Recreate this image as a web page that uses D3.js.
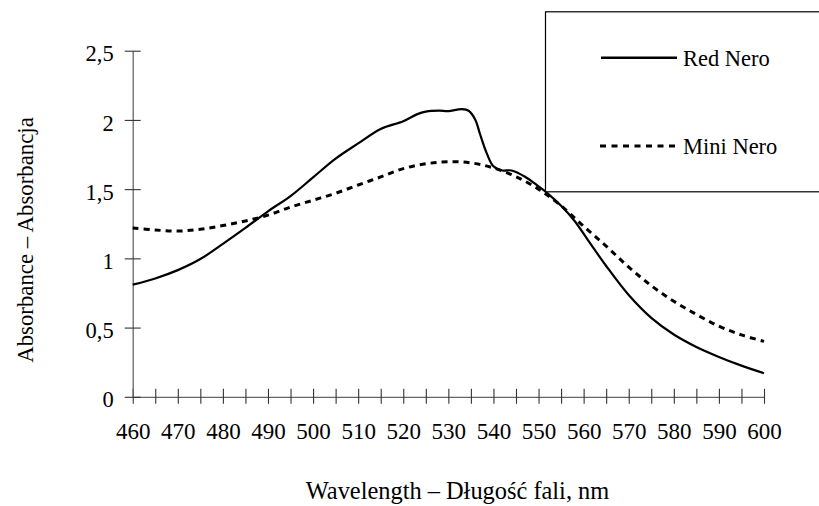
<!DOCTYPE html>
<html>
<head>
<meta charset="utf-8">
<script src="https://cdn.jsdelivr.net/npm/d3@7/dist/d3.min.js"></script>
<style>
  html, body { margin: 0; padding: 0; background: #fff; }
  svg { display: block; }
  text { font-family: "Liberation Serif", "Times New Roman", serif; fill: #000; }
</style>
</head>
<body>
<svg id="chart" width="819" height="506"></svg>
<script>
// ---- data ----
const redWavelengths = [460,465,470,475,480,485,490,495,500,505,510,515,520,523,525,528,530,533,534.5,536,537,538.5,540,542,544,547,550,552,555,558,561,565,570,575,580,585,590,595,600];
const redValues      = [0.81,0.855,0.915,0.995,1.105,1.22,1.34,1.45,1.585,1.72,1.83,1.935,1.99,2.04,2.06,2.067,2.064,2.078,2.066,2.0,1.90,1.76,1.665,1.635,1.635,1.59,1.52,1.47,1.38,1.27,1.13,0.945,0.735,0.57,0.45,0.36,0.288,0.225,0.17];
const miniWavelengths = [460,465,470,475,480,485,490,495,500,505,510,515,520,525,530,535,540,545,550,555,560,565,570,575,580,585,590,595,600];
const miniValues      = [1.22,1.205,1.197,1.21,1.237,1.27,1.312,1.37,1.42,1.47,1.53,1.588,1.648,1.683,1.698,1.69,1.653,1.59,1.50,1.38,1.232,1.088,0.937,0.803,0.69,0.595,0.51,0.447,0.40];
const xTickValues = [460,465,470,475,480,485,490,495,500,505,510,515,520,525,530,535,540,545,550,555,560,565,570,575,580,585,590,595,600];
const yTickValues = [0,0.5,1,1.5,2,2.5];
const seriesNames = ["Red Nero", "Mini Nero"];
const xTitle = "Wavelength – Długość fali, nm";
const yTitle = "Absorbance – Absorbancja";

// ---- layout ----
const svg = d3.select("#chart");
const plotLeft = 132.7, plotRight = 764, plotTop = 50.7, plotBottom = 396.8;
const x = d3.scaleLinear().domain([460, 600]).range([plotLeft, plotRight]);
const y = d3.scaleLinear().domain([0, 2.5]).range([plotBottom, plotTop]);
const fmt = v => String(v).replace(".", ",");

// x axis
const gx = svg.append("g").attr("transform", `translate(0,${plotBottom})`)
  .call(d3.axisBottom(x).tickValues(xTickValues).tickSizeOuter(0)
        .tickFormat(d => d % 10 === 0 ? d : ""));
gx.select(".domain").attr("stroke", "#666").attr("stroke-width", 1.3);
gx.selectAll(".tick line").attr("y1", -8).attr("y2", 7).attr("stroke", "#333").attr("stroke-width", 1.1);
gx.selectAll(".tick text").attr("y", 42).attr("dy", null)
  .style("font-size", "23px").style("font-family", "Liberation Serif, serif").attr("fill", "#000");

// y axis
const gy = svg.append("g").attr("transform", `translate(${plotLeft},0)`)
  .call(d3.axisLeft(y).tickValues(yTickValues).tickSizeOuter(0).tickFormat(fmt));
gy.select(".domain").attr("stroke", "#666").attr("stroke-width", 1.3);
gy.selectAll(".tick line").attr("x1", -8).attr("x2", 8).attr("stroke", "#333").attr("stroke-width", 1.1);
gy.selectAll(".tick text").attr("x", -19).attr("dy", "0.45em")
  .style("font-size", "22.5px").style("font-family", "Liberation Serif, serif").attr("fill", "#000");

// lines
const line = d3.line().x(d => x(d[0])).y(d => y(d[1])).curve(d3.curveCatmullRom.alpha(0.5));
const redData = redWavelengths.map((w, i) => [w, redValues[i]]);
const miniData = miniWavelengths.map((w, i) => [w, miniValues[i]]);

svg.append("path").datum(miniData).attr("d", line)
  .attr("fill", "none").attr("stroke", "#000").attr("stroke-width", 3)
  .attr("stroke-dasharray", "6,5");
svg.append("path").datum(redData).attr("d", line)
  .attr("fill", "none").attr("stroke", "#000").attr("stroke-width", 2.2);

// legend
const lg = svg.append("g");
lg.append("rect").attr("x", 545.5).attr("y", 11.8).attr("width", 290).attr("height", 180)
  .attr("fill", "#fff").attr("stroke", "#000").attr("stroke-width", 1.2);
lg.append("line").attr("x1", 601).attr("x2", 677).attr("y1", 57.7).attr("y2", 57.7)
  .attr("stroke", "#000").attr("stroke-width", 2.4);
lg.append("text").attr("x", 683).attr("y", 65.5).style("font-size", "22.5px").text(seriesNames[0]);
lg.append("line").attr("x1", 600).attr("x2", 678).attr("y1", 146).attr("y2", 146)
  .attr("stroke", "#000").attr("stroke-width", 3).attr("stroke-dasharray", "6,5.5");
lg.append("text").attr("x", 683).attr("y", 154).style("font-size", "22.5px").text(seriesNames[1]);

// titles
svg.append("text").attr("x", 457.5).attr("y", 499).attr("text-anchor", "middle")
  .style("font-size", "24.4px").text(xTitle);
svg.append("text").attr("transform", "translate(33,240) rotate(-90)").attr("text-anchor", "middle")
  .style("font-size", "22.8px").text(yTitle);
</script>
</body>
</html>
